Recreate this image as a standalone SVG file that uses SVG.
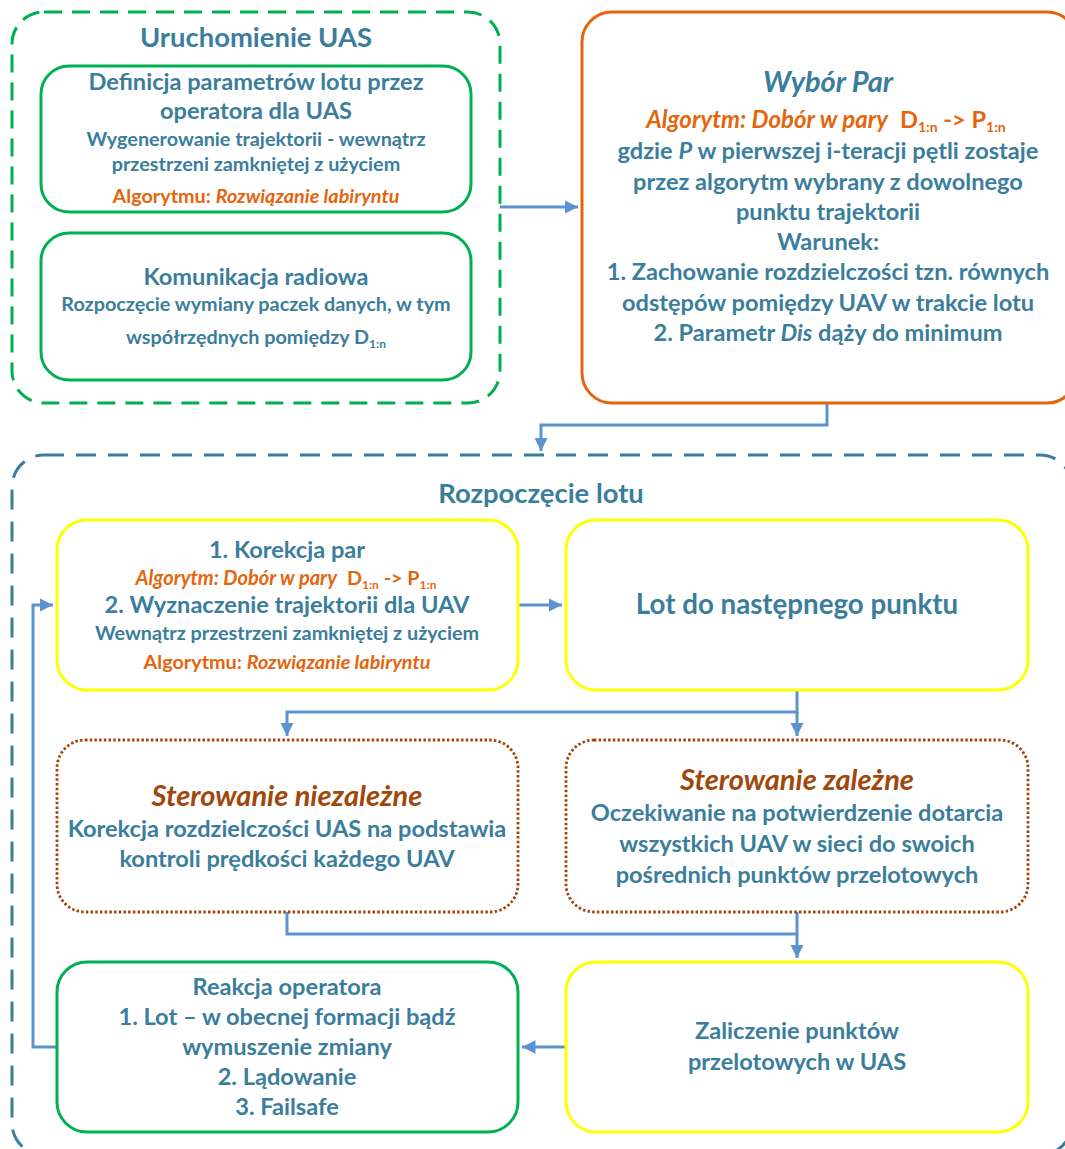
<svg xmlns="http://www.w3.org/2000/svg" width="1065" height="1149" viewBox="0 0 1065 1149">
<style>
  text { font-family: Lato, "Liberation Sans", sans-serif; font-weight: bold; fill: #3a7d9c; text-anchor: middle; }
  .tt { font-size: 27.4px; }
  .tw { font-size: 29px; }
  .t24 { font-size: 27.7px; }
  .t20 { font-size: 23.6px; }
  .t17 { font-size: 19.8px; }
  .or { fill: #e4650c; }
  .br { fill: #a0470c; font-size: 29px; }
  .it { font-style: italic; }
  .sub { font-size: 14px; }
  .sub2 { font-size: 12px; }
  .conn { fill: none; stroke: #5b93cf; stroke-width: 3; }
  .green { fill: #fff; stroke: #00b050; stroke-width: 3; }
  .yellow { fill: #fff; stroke: #ffff00; stroke-width: 3; }
  .dotted { fill: #fff; stroke: #a0450c; stroke-width: 2.8; stroke-dasharray: 2.5 2.2; }
</style>
<defs>
  <marker id="ah" viewBox="0 0 10 10" refX="10" refY="5" markerWidth="4.5" markerHeight="4.5" orient="auto" markerUnits="strokeWidth">
    <path d="M0,0 L10,5 L0,10 z" fill="#5b93cf"/>
  </marker>
</defs>
<rect width="1065" height="1149" fill="#fff"/>

<g id="container-uruchomienie">
  <rect x="12" y="12" width="488" height="391" rx="32" fill="none" stroke="#00b050" stroke-width="3" stroke-dasharray="18 10"/>
  <text class="tt" x="256" y="47">Uruchomienie UAS</text>
</g>

<g id="container-rozpoczecie">
  <rect x="12" y="455" width="1060" height="700" rx="32" fill="none" stroke="#3a7d9c" stroke-width="3" stroke-dasharray="20 12"/>
  <text class="tt" x="541" y="503">Rozpoczęcie lotu</text>
</g>

<g id="connectors">
  <path class="conn" d="M500,207 H578" marker-end="url(#ah)"/>
  <path class="conn" d="M827,403 V425 H541 V451" marker-end="url(#ah)"/>
  <path class="conn" d="M518,605 H562" marker-end="url(#ah)"/>
  <path class="conn" d="M797,690 V712 H287 V736" marker-end="url(#ah)"/>
  <path class="conn" d="M797,712 V736" marker-end="url(#ah)"/>
  <path class="conn" d="M287,912 V934 H797"/>
  <path class="conn" d="M797,912 V958" marker-end="url(#ah)"/>
  <path class="conn" d="M566,1047 H522" marker-end="url(#ah)"/>
  <path class="conn" d="M57,1047 H33 V605 H53" marker-end="url(#ah)"/>
</g>

<g id="node-definicja">
  <rect class="green" x="41" y="66" width="430" height="146" rx="28"/>
  <text class="t20" x="256" y="90">Definicja parametrów lotu przez</text>
  <text class="t20" x="256" y="119">operatora dla UAS</text>
  <text class="t17" x="256" y="146">Wygenerowanie trajektorii - wewnątrz</text>
  <text class="t17" x="256" y="171">przestrzeni zamkniętej z użyciem</text>
  <text class="t17 or" x="256" y="203">Algorytmu: <tspan class="it">Rozwiązanie labiryntu</tspan></text>
</g>

<g id="node-komunikacja">
  <rect class="green" x="41" y="233" width="430" height="147" rx="28"/>
  <text class="t20" x="256" y="285">Komunikacja radiowa</text>
  <text class="t17" x="256" y="311">Rozpoczęcie wymiany paczek danych, w tym</text>
  <text class="t17" x="256" y="344">współrzędnych pomiędzy D<tspan class="sub2" dy="4">1:n</tspan></text>
</g>

<g id="node-wybor">
  <rect x="582" y="12" width="495" height="391" rx="30" fill="#fff" stroke="#e4650c" stroke-width="3"/>
  <text class="tw it" x="828" y="92">Wybór Par</text>
  <text class="t20 or" x="826" y="128"><tspan class="it" font-size="24">Algorytm: Dobór w pary</tspan><tspan dx="12">D</tspan><tspan class="sub" dy="4">1:n</tspan><tspan dy="-4"> -&gt; P</tspan><tspan class="sub" dy="4">1:n</tspan></text>
  <text class="t20" x="828" y="159">gdzie <tspan class="it">P</tspan> w pierwszej i-teracji pętli zostaje</text>
  <text class="t20" x="828" y="190">przez algorytm wybrany z dowolnego</text>
  <text class="t20" x="828" y="220">punktu trajektorii</text>
  <text class="t20" x="828" y="250">Warunek:</text>
  <text class="t20" x="828" y="280">1. Zachowanie rozdzielczości tzn. równych</text>
  <text class="t20" x="828" y="311">odstępów pomiędzy UAV w trakcie lotu</text>
  <text class="t20" x="828" y="341">2. Parametr <tspan class="it">Dis</tspan> dąży do minimum</text>
</g>

<g id="node-korekcja">
  <rect class="yellow" x="57" y="520" width="461" height="170" rx="30"/>
  <text class="t20" x="287" y="558">1. Korekcja par</text>
  <text class="t17 or" x="286" y="585"><tspan class="it" font-size="20">Algorytm: Dobór w pary</tspan><tspan dx="10">D</tspan><tspan class="sub2" dy="4">1:n</tspan><tspan dy="-4"> -&gt; P</tspan><tspan class="sub2" dy="4">1:n</tspan></text>
  <text class="t20" x="287" y="613">2. Wyznaczenie trajektorii dla UAV</text>
  <text class="t17" x="287" y="640">Wewnątrz przestrzeni zamkniętej z użyciem</text>
  <text class="t17 or" x="287" y="669">Algorytmu: <tspan class="it">Rozwiązanie labiryntu</tspan></text>
</g>

<g id="node-lot">
  <rect class="yellow" x="566" y="520" width="462" height="170" rx="30"/>
  <text class="t24" x="797" y="614">Lot do następnego punktu</text>
</g>

<g id="node-niezalezne">
  <rect class="dotted" x="57" y="740" width="461" height="172" rx="28"/>
  <text class="br it" x="287" y="806">Sterowanie niezależne</text>
  <text class="t20" x="287" y="837">Korekcja rozdzielczości UAS na podstawia</text>
  <text class="t20" x="287" y="867">kontroli prędkości każdego UAV</text>
</g>

<g id="node-zalezne">
  <rect class="dotted" x="566" y="740" width="462" height="172" rx="28"/>
  <text class="br it" x="797" y="790">Sterowanie zależne</text>
  <text class="t20" x="797" y="821">Oczekiwanie na potwierdzenie dotarcia</text>
  <text class="t20" x="797" y="852">wszystkich UAV w sieci do swoich</text>
  <text class="t20" x="797" y="883">pośrednich punktów przelotowych</text>
</g>

<g id="node-reakcja">
  <rect class="green" x="57" y="962" width="461" height="170" rx="30"/>
  <text class="t20" x="287" y="995">Reakcja operatora</text>
  <text class="t20" x="287" y="1025">1. Lot – w obecnej formacji bądź</text>
  <text class="t20" x="287" y="1055">wymuszenie zmiany</text>
  <text class="t20" x="287" y="1085">2. Lądowanie</text>
  <text class="t20" x="287" y="1115">3. Failsafe</text>
</g>

<g id="node-zaliczenie">
  <rect class="yellow" x="566" y="962" width="462" height="170" rx="30"/>
  <text class="t20" x="797" y="1039">Zaliczenie punktów</text>
  <text class="t20" x="797" y="1070">przelotowych w UAS</text>
</g>
</svg>
